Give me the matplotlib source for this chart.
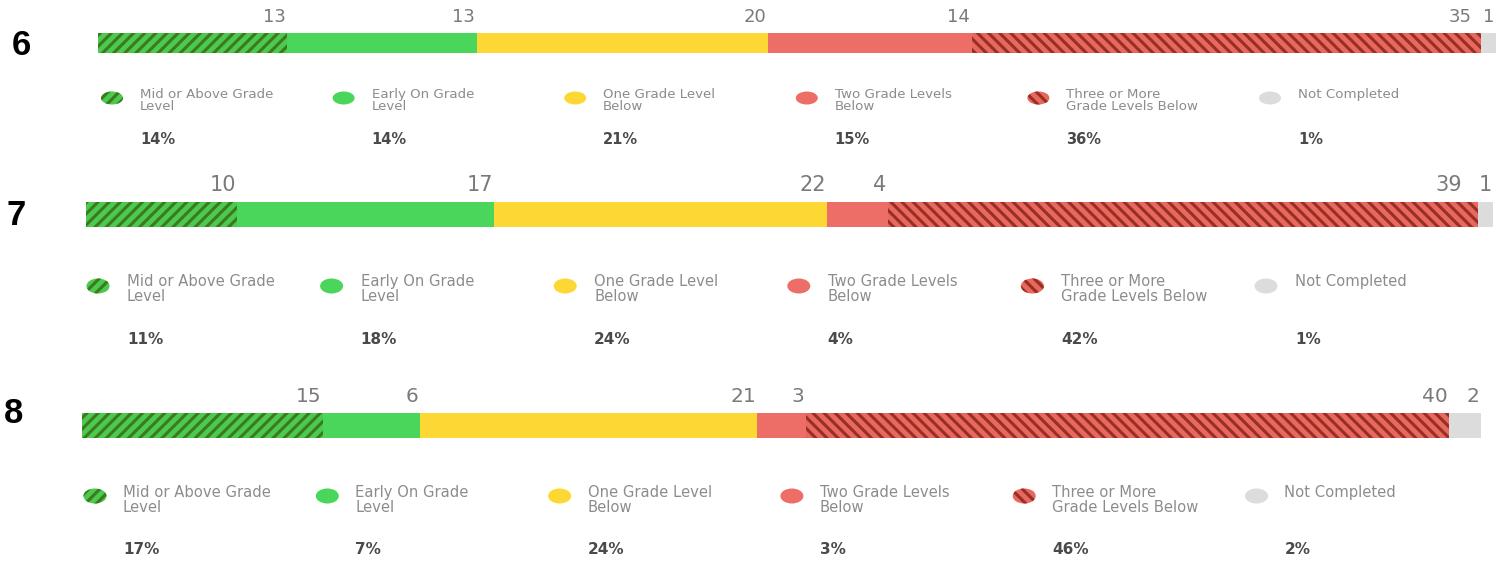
import matplotlib
matplotlib.use('Agg')
import matplotlib.pyplot as plt
from matplotlib.patches import Ellipse

# data
grades = ['6', '7', '8']
categories = ['Mid or Above Grade\nLevel', 'Early On Grade\nLevel', 'One Grade Level\nBelow',
              'Two Grade Levels\nBelow', 'Three or More\nGrade Levels Below', 'Not Completed']
counts_6 = [13, 13, 20, 14, 35, 1]
counts_7 = [10, 17, 22, 4, 39, 1]
counts_8 = [15, 6, 21, 3, 40, 2]
pct_6 = [14, 14, 21, 15, 36, 1]
pct_7 = [11, 18, 24, 4, 42, 1]
pct_8 = [17, 7, 24, 3, 46, 2]
counts = [counts_6, counts_7, counts_8]
pcts = [pct_6, pct_7, pct_8]

# styles: face colour, hatch, hatch colour
colors = ['#4cc94f', '#49d65b', '#fdd835', '#ec6e66', '#e8675e', '#dcdcdc']
hatches = ['///', None, None, None, '\\\\\\', None]
hatch_colors = ['#3b7a1d', 'none', 'none', 'none', '#973023', 'none']

W, H = 1507, 561
plt.rcParams['hatch.linewidth'] = 2.2

# layout in pixels for each grade panel
layouts = [
    dict(bar=(98, 1496, 33, 53), num_fs=13, shift=8, label=(12, 45),
         mk_x=112, mk_dx=231.6, mk_y=98, mk_w=22, mk_h=13, txt_dx=28, txt_fs=9.6,
         txt_top=88, ls=0.9, pct_y=139, pct_fs=10.5),
    dict(bar=(86, 1493, 202, 227), num_fs=15, shift=14, label=(7, 215),
         mk_x=98, mk_dx=233.6, mk_y=286, mk_w=23, mk_h=15, txt_dx=29, txt_fs=10.6,
         txt_top=274, ls=1.0, pct_y=339, pct_fs=11),
    dict(bar=(82, 1481, 413, 438), num_fs=14.5, shift=0, label=(4, 413),
         mk_x=95, mk_dx=232.3, mk_y=496, mk_w=23, mk_h=15, txt_dx=28, txt_fs=10.6,
         txt_top=485, ls=1.0, pct_y=549, pct_fs=11),
]

fig = plt.figure(figsize=(W / 100, H / 100), dpi=100)
overlay = fig.add_axes([0, 0, 1, 1])
overlay.set_xlim(0, W)
overlay.set_ylim(H, 0)
overlay.axis('off')

for g, grade in enumerate(grades):
    lay = layouts[g]
    x0, x1, y0, y1 = lay['bar']
    ax = fig.add_axes([x0 / W, 1 - y1 / H, (x1 - x0) / W, (y1 - y0) / H])
    vals = counts[g]
    left = 0
    for i, v in enumerate(vals):
        ax.barh(0, v, left=left, height=1, color=colors[i], hatch=hatches[i],
                edgecolor=hatch_colors[i], linewidth=0)
        # count label right-aligned at segment end
        dx = -1
        if i == len(vals) - 2:
            dx -= lay['shift'] * 0.72
        ax.annotate(str(v), xy=(left + v, 1), xycoords=('data', 'axes fraction'),
                    xytext=(dx, 5), textcoords='offset points', ha='right', va='bottom',
                    fontsize=lay['num_fs'], color='#7a7a7a', family='DejaVu Sans')
        left += v
    ax.set_xlim(0, sum(vals))
    ax.set_ylim(-0.5, 0.5)
    ax.axis('off')

    # grade label
    overlay.text(lay['label'][0], lay['label'][1], grade, fontsize=25, fontweight='bold',
                 family='Liberation Sans', color='black', ha='left', va='center')

    # legend row
    for i, cat in enumerate(categories):
        mx = lay['mk_x'] + i * lay['mk_dx']
        el = Ellipse((mx, lay['mk_y']), lay['mk_w'], lay['mk_h'], facecolor=colors[i],
                     hatch=hatches[i], edgecolor=hatch_colors[i], linewidth=0)
        overlay.add_patch(el)
        tx = mx + lay['txt_dx']
        overlay.text(tx, lay['txt_top'], cat, fontsize=lay['txt_fs'], color='#8c8c8c',
                     family='DejaVu Sans', ha='left', va='top', linespacing=lay['ls'])
        overlay.text(tx, lay['pct_y'], f'{pcts[g][i]}%', fontsize=lay['pct_fs'],
                     fontweight='bold', color='#4a4a4a', family='DejaVu Sans',
                     ha='left', va='center')

fig.savefig('out.png', dpi=100)
